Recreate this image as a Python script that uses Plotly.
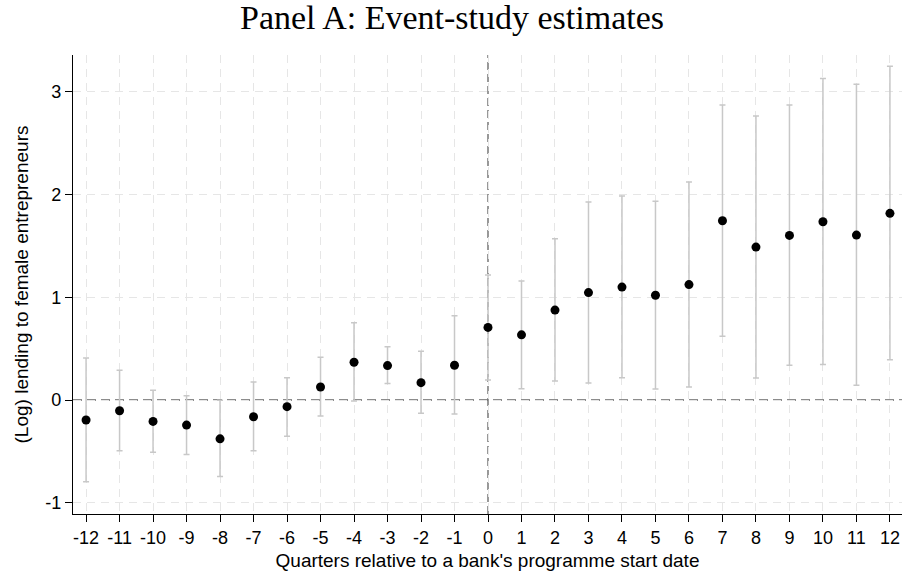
import plotly.graph_objects as go

quarters = list(range(-12, 13))
estimates = [-0.195, -0.104, -0.208, -0.244, -0.378, -0.163, -0.065, 0.127, 0.368, 0.335, 0.169, 0.339,
             0.707, 0.635, 0.876, 1.046, 1.100, 1.020, 1.124, 1.746, 1.489, 1.603, 1.736, 1.606, 1.818]
upper = [0.41, 0.29, 0.094, 0.042, -0.003, 0.176, 0.218, 0.417, 0.752, 0.518, 0.476, 0.82,
         1.218, 1.16, 1.57, 1.928, 1.987, 1.935, 2.124, 2.873, 2.765, 2.873, 3.13, 3.075, 3.251]
lower = [-0.795, -0.495, -0.508, -0.531, -0.746, -0.495, -0.352, -0.156, -0.01, 0.16, -0.13, -0.137,
         0.195, 0.11, 0.186, 0.166, 0.218, 0.107, 0.127, 0.622, 0.215, 0.339, 0.345, 0.143, 0.391]
y_ticks = [-1, 0, 1, 2, 3]

err_plus = [u - e for u, e in zip(upper, estimates)]
err_minus = [e - l for e, l in zip(estimates, lower)]

fig = go.Figure()
fig.add_trace(go.Scatter(
    x=quarters, y=estimates, mode="markers",
    marker=dict(color="black", size=9),
    error_y=dict(type="data", symmetric=False, array=err_plus, arrayminus=err_minus,
                 color="#c8c8c8", thickness=1.5, width=3),
    showlegend=False,
))
fig.add_hline(y=0, line=dict(color="#8c8c8c", width=2.2, dash="9px,5px"), layer="below")
fig.add_vline(x=0, line=dict(color="#6e6e6e", width=1.4, dash="8px,4px"), layer="below")

fig.update_layout(
    width=904, height=578,
    paper_bgcolor="white", plot_bgcolor="white",
    margin=dict(l=73, r=2, t=55, b=64),
    title=dict(text="Panel A: Event-study estimates", x=0.5, xanchor="center", y=0.971, yanchor="middle",
               font=dict(family="Liberation Serif", size=34, color="black")),
    font=dict(family="Liberation Sans", color="black"),
    xaxis=dict(range=[-12.39, 12.36], tickmode="array", tickvals=quarters,
               ticktext=[str(q) for q in quarters], tickfont=dict(size=18),
               showline=True, linecolor="black", linewidth=1.3, ticks="outside", ticklen=7,
               tickcolor="black", showgrid=True, gridcolor="#e6e6e6", griddash="8px,6px", gridwidth=1.2,
               zeroline=False, automargin=False,
               title=dict(text="Quarters relative to a bank's programme start date", font=dict(size=19), standoff=6)),
    yaxis=dict(range=[-1.11, 3.36], tickmode="array", tickvals=y_ticks,
               ticktext=[str(t) for t in y_ticks], tickfont=dict(size=18),
               showline=True, linecolor="black", linewidth=1.3, ticks="outside", ticklen=7,
               tickcolor="black", showgrid=True, gridcolor="#e6e6e6", griddash="8px,6px", gridwidth=1.2,
               zeroline=False, automargin=False,
               title=dict(text="(Log) lending to female entrepreneurs", font=dict(size=19), standoff=11)),
)
fig.write_html("out.html", config={"displayModeBar": False},
               post_script="document.body.style.margin='0';document.body.style.overflow='hidden';")
